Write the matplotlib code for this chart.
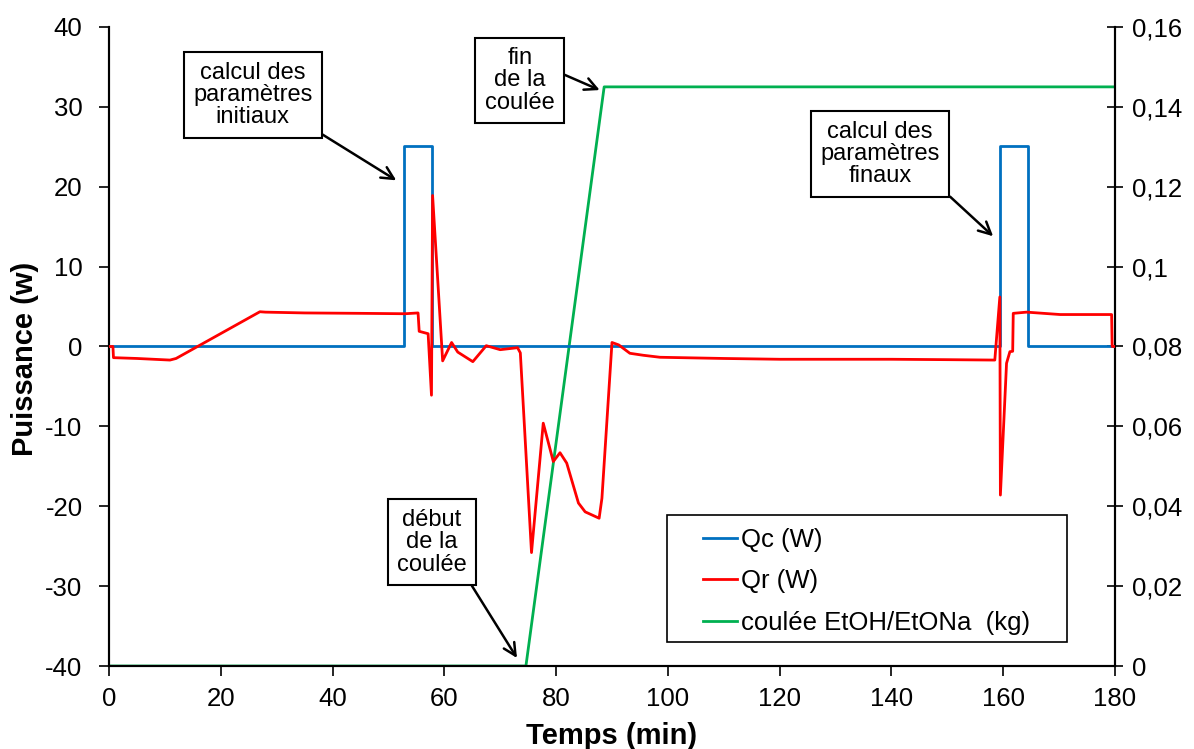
import matplotlib
matplotlib.use("Agg")
import matplotlib.pyplot as plt
from matplotlib.lines import Line2D
from matplotlib.patches import Rectangle

plt.rcParams['font.family'] = ['Liberation Sans', 'DejaVu Sans']
plt.rcParams['axes.unicode_minus'] = False

# Qc (W): heater power steps
qc_t = [0, 52.8, 52.8, 57.8, 57.8, 159.4, 159.4, 164.4, 164.4, 180]
qc_v = [0, 0, 25.1, 25.1, 0, 0, 25.1, 25.1, 0, 0]

# Qr (W)
qr_t = [0, 0.7, 0.8, 5, 10.9, 12, 27, 28, 35, 45, 53, 55.3, 55.5, 57.1, 57.7, 57.9,
        59.7, 61.3, 62.4, 65.1, 67.5, 70, 73.1, 73.6, 75.6, 77.7, 79.5, 80.7, 81.9,
        84.0, 85.2, 87.7, 88.2, 90.0, 91.2, 93.2, 95.6, 98.6, 110, 120, 130, 140,
        150, 158.5, 159.4, 159.5, 160.6, 161.2, 161.7, 161.8, 164.2, 170.2, 179.4,
        179.5, 180]
qr_v = [0, 0, -1.4, -1.5, -1.7, -1.5, 4.35, 4.3, 4.2, 4.15, 4.1, 4.2, 1.9, 1.6, -6.1,
        18.9, -1.8, 0.5, -0.7, -1.9, 0.1, -0.4, -0.15, -0.8, -25.8, -9.6, -14.4,
        -13.3, -14.6, -19.6, -20.7, -21.5, -19, 0.5, 0.2, -0.85, -1.1, -1.35, -1.5,
        -1.6, -1.6, -1.6, -1.65, -1.7, 6.2, -18.6, -2.1, -0.65, -0.6, 4.15, 4.3,
        4.0, 4.0, 0, 0]

# coulée EtOH/EtONa (kg)
cl_t = [0, 74.6, 88.6, 180]
cl_v = [0, 0, 0.145, 0.145]

W, H = 1194, 749
fig = plt.figure(figsize=(W / 100, H / 100), dpi=100)
ax = fig.add_axes([0.0913, 0.1108, 0.8425, 0.8532])
ax2 = ax.twinx()

blue = '#0070C0'
red = '#FF0000'
green = '#00B050'
lw = 2.0

ax.plot(qc_t, qc_v, color=blue, lw=lw, zorder=3)
ax.plot(qr_t, qr_v, color=red, lw=lw, zorder=4)
ax2.plot(cl_t, cl_v, color=green, lw=lw, zorder=2)

ax.set_xlim(0, 180)
ax.set_ylim(-40, 40)
ax2.set_ylim(0, 0.16)
ax.set_xticks(range(0, 181, 20))
ax.set_yticks(range(-40, 41, 10))
ax2.set_yticks([0, 0.02, 0.04, 0.06, 0.08, 0.1, 0.12, 0.14, 0.16])
ax2.set_yticklabels(['0', '0,02', '0,04', '0,06', '0,08', '0,1', '0,12', '0,14', '0,16'])

fs = 18.5
ax.tick_params(axis='both', labelsize=fs, direction='out', length=7, width=1.2)
ax.tick_params(axis='y', pad=12)
ax.tick_params(axis='x', pad=8)
ax2.tick_params(axis='y', labelsize=fs, direction='inout', length=12, width=1.2, pad=6)
for a in (ax, ax2):
    for s in a.spines.values():
        s.set_linewidth(1.5)
ax.spines['top'].set_visible(False)
ax2.spines['top'].set_visible(False)
ax.set_zorder(ax2.get_zorder() + 1)
ax.patch.set_visible(False)

ax.set_xlabel('Temps (min)', fontsize=21, fontweight='bold', labelpad=8)
ax.set_ylabel('Puissance (w)', fontsize=21, fontweight='bold')
ax.yaxis.set_label_coords(-0.07, 0.48)

# legend frame (Excel style), drawn in figure coordinates under the legend
ax.add_patch(Rectangle((667 / W, 1 - 642 / H), 400 / W, 127 / H,
                       transform=fig.transFigure, fc='white', ec='black',
                       lw=1.2, zorder=15, clip_on=False))
handles = [Line2D([], [], color=blue, lw=lw),
           Line2D([], [], color=red, lw=lw),
           Line2D([], [], color=green, lw=lw)]
leg = ax.legend(handles, ['Qc (W)', 'Qr (W)', 'coulée EtOH/EtONa  (kg)'],
                loc='upper left', bbox_to_anchor=(703 / W, 1 - 528 / H),
                bbox_transform=fig.transFigure, borderaxespad=0, borderpad=0,
                fontsize=18.5, frameon=False, handlelength=1.32,
                handletextpad=0.15, labelspacing=0.68)
leg.set_zorder(20)

bbox = dict(boxstyle='square,pad=0.4', fc='white', ec='black', lw=1.5)
arrow = dict(arrowstyle='->', color='black', lw=1.8, mutation_scale=22, shrinkA=0, shrinkB=0)
tfs = 17

ax.annotate('calcul des\nparamètres\ninitiaux', xy=(51.4, 20.8), xytext=(25.7, 31.5),
            ha='center', va='center', fontsize=tfs, bbox=bbox, linespacing=1.02,
            arrowprops=dict(arrow, relpos=(1, 0)), zorder=10)
ax.annotate('fin\nde la\ncoulée', xy=(87.8, 32.1), xytext=(73.5, 33.3),
            ha='center', va='center', fontsize=tfs, bbox=bbox, linespacing=1.02,
            arrowprops=dict(arrow, relpos=(1, 0.65)), zorder=10)
ax.annotate('calcul des\nparamètres\nfinaux', xy=(158.2, 13.8), xytext=(138.0, 24.1),
            ha='center', va='center', fontsize=tfs, bbox=bbox, linespacing=1.02,
            arrowprops=dict(arrow, relpos=(1, 0)), zorder=10)
ax.annotate('début\nde la\ncoulée', xy=(73.0, -39.0), xytext=(57.8, -24.5),
            ha='center', va='center', fontsize=tfs, bbox=bbox, linespacing=1.02,
            arrowprops=dict(arrow, relpos=(0.98, 0)), zorder=10)

fig.savefig('out.png', dpi=100)
